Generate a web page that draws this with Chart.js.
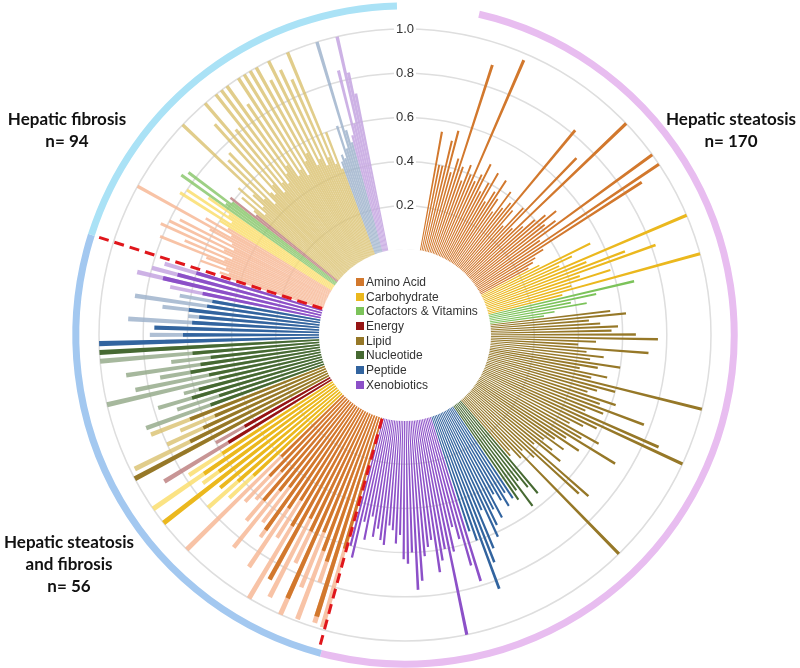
<!DOCTYPE html>
<html lang="en">
<head>
<meta charset="UTF-8">
<title>Metabolites by liver condition</title>
<style>
  body { margin: 0; background: #fff; }
  #wrap { position: relative; width: 800px; height: 668px; }
  #chart { position: absolute; left: 0; top: 0; }
  .group {
    position: absolute; width: 160px; text-align: center;
    font-family: Lato, "Liberation Sans", sans-serif; font-weight: bold;
    font-size: 17px; line-height: 22px; color: #111;
  }
  #legend {
    position: absolute; left: 356px; top: 275px;
    font-family: "Liberation Sans", Arial, sans-serif; font-size: 12px; color: #333;
  }
  #legend div { height: 14.7px; line-height: 14.7px; white-space: nowrap; }
  #legend span { display: inline-block; width: 8px; height: 8px; margin-right: 2px; }
</style>
</head>
<body>
<div id="wrap">
  <canvas id="chart" width="800" height="668"></canvas>
  <div class="group" style="left:-13px; top:108px;">Hepatic fibrosis<br>n= 94</div>
  <div class="group" style="left:651px; top:108px;">Hepatic steatosis<br>n= 170</div>
  <div class="group" style="left:-11px; top:531px;">Hepatic steatosis<br>and fibrosis<br>n= 56</div>
  <div id="legend"></div>
</div>
<script src="https://cdn.jsdelivr.net/npm/chart.js@4.4.1/dist/chart.umd.min.js"></script>
<script>
const categories = ['Amino Acid', 'Carbohydrate', 'Cofactors & Vitamins', 'Energy', 'Lipid', 'Nucleotide', 'Peptide', 'Xenobiotics'];
const darkColors = ['#d2782d', '#ebb81e', '#7cc35a', '#961414', '#967828', '#466932', '#32649f', '#8c50c8'];
const lightColors = ['rgba(247,185,150,0.85)', 'rgba(250,222,110,0.85)', 'rgba(140,200,110,0.85)', 'rgba(190,130,130,0.85)',
                     'rgba(218,192,110,0.8)', 'rgba(150,172,140,0.85)', 'rgba(160,180,205,0.85)', 'rgba(196,165,225,0.85)'];

// number of bars per category (legend order), clockwise inside each group
const steatosisCounts = [48, 13, 6, 0, 52, 6, 15, 30];
const bothCounts      = [19, 7, 0, 2, 5, 11, 8, 4];
const fibrosisCounts  = [21, 6, 4, 2, 47, 0, 8, 6];

// Hepatic steatosis, n = 170
const steatosisValues = [
  // amino acid
  0.55, 0.40, 0.40, 0.52, 0.57, 0.38, 0.45, 0.90, 0.42, 0.36,
  0.44, 0.40, 0.97, 0.38, 0.42, 0.48, 0.35, 0.40, 0.46, 0.32,
  0.38, 0.45, 0.36, 0.30, 0.42, 0.34, 0.38, 0.82, 0.36, 0.28,
  0.40, 0.73, 0.30, 1.00, 0.34, 0.40, 0.45, 0.50, 0.42, 0.47,
  1.00, 0.36, 1.00, 0.89, 0.35, 0.30, 0.28, 0.25,
  // carbohydrate
  0.30, 0.55, 0.45, 0.38, 1.00, 0.50, 0.68, 0.82, 0.45, 0.59, 0.40, 1.00, 0.35,
  // cofactors & vitamins
  0.68, 0.50, 0.38, 0.45, 0.30, 0.25,
  // lipid
  0.55, 0.62, 0.45, 0.50, 0.58, 0.55, 0.66, 0.76, 0.48, 0.40,
  0.72, 0.44, 0.52, 0.46, 0.60, 0.50, 0.42, 0.55, 0.48, 1.00,
  0.60, 0.52, 0.48, 0.62, 0.55, 0.77, 0.58, 0.50, 0.87, 1.00,
  0.58, 0.52, 0.46, 0.62, 0.54, 0.73, 0.48, 0.56, 0.44, 0.50,
  0.40, 0.46, 0.52, 0.38, 0.72, 0.68, 0.42, 0.36, 1.00, 0.38,
  0.32, 0.34,
  // nucleotide
  0.55, 0.50, 0.45, 0.58, 0.48, 0.52,
  // peptide
  0.50, 0.46, 0.52, 0.48, 0.44, 0.55, 0.50, 0.57, 0.62, 0.48, 0.66, 0.72, 0.84, 0.60, 0.55,
  // xenobiotics
  0.78, 0.70, 0.57, 0.51, 0.62, 1.00, 0.60, 0.65, 0.70, 0.55,
  0.58, 0.62, 0.73, 0.77, 0.60, 0.65, 0.63, 0.52, 0.56, 0.50,
  0.48, 0.57, 0.55, 0.50, 0.54, 0.45, 0.56, 0.48, 0.65, 0.60
];

// Hepatic steatosis and fibrosis, n = 56 (dark = steatosis, light = fibrosis)
const bothSteatosis = [
  0.62, 0.95, 0.70, 0.66, 0.58, 0.92, 0.60, 0.55, 0.88, 0.62, 0.50, 0.56, 0.70, 0.48, 0.52, 0.60, 0.45, 0.50, 0.40,
  0.55, 0.62, 0.70, 1.00, 0.66, 0.72, 0.60,
  0.55, 0.45,
  1.00, 0.70, 0.62, 0.55, 0.66,
  0.55, 0.50, 0.62, 0.58, 0.48, 0.52, 0.60, 0.55, 0.50, 0.58, 1.00,
  1.00, 0.62, 0.75, 0.58, 0.55, 0.60, 0.52, 0.50,
  0.55, 0.74, 0.68, 0.60
];
const bothFibrosis = [
  0.99, 0.98, 0.80, 0.99, 0.85, 1.00, 0.76, 0.95, 0.82, 1.00, 0.70, 0.88, 0.74, 0.68, 0.85, 0.72, 0.62, 0.66, 1.00,
  0.70, 0.80, 0.60, 0.85, 0.75, 1.00, 0.78,
  0.89, 0.60,
  0.75, 0.98, 0.80, 0.72, 0.85,
  0.86, 0.70, 0.78, 0.65, 1.00, 0.86, 0.74, 0.89, 0.68, 1.00, 0.72,
  0.70, 0.77, 0.68, 0.87, 0.60, 0.72, 0.85, 0.65,
  0.70, 0.86, 0.80, 0.75
];

// Hepatic fibrosis, n = 94
const fibrosisValues = [
  0.45, 0.50, 0.46, 0.60, 0.48, 0.58, 0.81, 0.50, 0.70, 0.47, 0.83, 0.52, 0.80, 0.48, 0.76, 0.50, 0.62, 1.00, 0.52, 0.66, 0.55,
  0.60, 0.82, 0.55, 0.80, 0.58, 0.70,
  0.86, 0.62, 0.84, 0.60,
  0.62, 0.48,
  0.50, 0.58, 0.45, 0.62, 0.48, 0.55, 1.00, 0.50, 0.74, 0.45,
  0.76, 0.50, 0.48, 0.90, 0.52, 1.00, 0.46, 0.82, 0.50, 1.00,
  0.48, 1.00, 0.52, 1.00, 0.55, 0.88, 0.48, 1.00, 0.50, 1.00,
  0.46, 1.00, 0.52, 1.00, 0.55, 0.92, 0.48, 1.00, 0.50, 0.94,
  0.46, 0.88, 0.49, 1.00, 0.45, 0.60, 0.42,
  0.45, 0.48, 0.46, 0.61, 0.50, 1.00, 0.58, 0.52,
  0.55, 0.85, 0.60, 1.00, 0.83, 0.73
];

const tickValues = [0.2, 0.4, 0.6, 0.8, 1.0];

// angular layout in degrees, clockwise from 12 o'clock
const MIN = -0.385;            // scale minimum, leaves the hole for the legend
const leadGap = 10;
const slot = { s: 1.09, b: 1.65, f: 0.65 };
const barShare = { s: 0.55, b: 0.58, f: 1 };
const ringSpans = [
  { from: 13, to: 194.8, color: '#e8bdf0' },
  { from: 194.8, to: 287.7, color: '#a3c8f0' },
  { from: 287.7, to: 358.6, color: '#aae2f6' }
];
const clear = 'rgba(0,0,0,0)';

const labels = [], angles = [], darkData = [], lightData = [], darkBg = [], lightBg = [];
function add(label, angle, d, l, dc, lc) {
  labels.push(label); angles.push(angle);
  darkData.push(d); lightData.push(l); darkBg.push(dc); lightBg.push(lc);
}
function expand(counts) {
  const out = [];
  counts.forEach((n, c) => { for (let i = 0; i < n; i++) out.push(c); });
  return out;
}

add('', leadGap, MIN, MIN, clear, clear);
expand(steatosisCounts).forEach((c, i) => {
  add(categories[c], slot.s * barShare.s, steatosisValues[i], MIN, darkColors[c], clear);
  add('', slot.s * (1 - barShare.s), MIN, MIN, clear, clear);
});
expand(bothCounts).forEach((c, i) => {
  add(categories[c], slot.b * barShare.b, bothSteatosis[i], bothFibrosis[i], darkColors[c], lightColors[c]);
  add('', slot.b * (1 - barShare.b), MIN, MIN, clear, clear);
});
expand(fibrosisCounts).forEach((c, i) => {
  add(categories[c], slot.f, MIN, fibrosisValues[i], clear, lightColors[c]);
});
const used = angles.reduce((a, b) => a + b, 0);
add('', 360 - used, MIN, MIN, clear, clear);

const sepAngles = [leadGap + 170 * slot.s, leadGap + 170 * slot.s + 56 * slot.b];

// legend in the centre
const legendBox = document.getElementById('legend');
categories.forEach((name, i) => {
  const row = document.createElement('div');
  row.innerHTML = '<span style="background:' + darkColors[i] + '"></span>' + name.replace('&', '&amp;');
  legendBox.appendChild(row);
});

const decor = {
  id: 'decor',
  afterDatasetsDraw(chart) {
    const r = chart.scales.r, ctx = chart.ctx;
    const cx = r.xCenter, cy = r.yCenter;
    const rad = d => (d - 90) * Math.PI / 180;
    ctx.save();
    // white hole for the legend
    ctx.fillStyle = '#fff';
    ctx.beginPath();
    ctx.arc(cx, cy, r.getDistanceFromCenterForValue(0) + 1, 0, Math.PI * 2);
    ctx.fill();
    // group ring
    ctx.lineWidth = 7;
    const ringR = r.getDistanceFromCenterForValue(1.105);
    ringSpans.forEach(s => {
      ctx.strokeStyle = s.color;
      ctx.beginPath();
      ctx.arc(cx, cy, ringR, rad(s.from), rad(s.to));
      ctx.stroke();
    });
    // red dashed separators
    ctx.strokeStyle = '#e0161b';
    ctx.lineWidth = 3;
    ctx.setLineDash([10, 6]);
    const r0 = r.getDistanceFromCenterForValue(0) + 2, r1 = r.getDistanceFromCenterForValue(1.08);
    sepAngles.forEach(a => {
      const t = rad(a);
      ctx.beginPath();
      ctx.moveTo(cx + r0 * Math.cos(t), cy + r0 * Math.sin(t));
      ctx.lineTo(cx + r1 * Math.cos(t), cy + r1 * Math.sin(t));
      ctx.stroke();
    });
    ctx.restore();
  }
};

new Chart(document.getElementById('chart'), {
  type: 'polarArea',
  data: {
    labels: labels,
    datasets: [
      { label: 'steatosis', data: darkData, backgroundColor: darkBg, borderWidth: 0, angle: ctx => angles[ctx.dataIndex] },
      { label: 'fibrosis', data: lightData, backgroundColor: lightBg, borderWidth: 0, angle: ctx => angles[ctx.dataIndex] }
    ]
  },
  options: {
    responsive: false,
    animation: false,
    layout: { padding: { top: 19, bottom: 17, left: 90, right: 80 } },
    plugins: { legend: { display: false }, tooltip: { enabled: false } },
    scales: {
      r: {
        min: MIN,
        max: 1.0,
        startAngle: 0,
        angleLines: { display: false },
        pointLabels: { display: false },
        grid: { color: '#dedede', lineWidth: 1.5 },
        ticks: {
          stepSize: 0.2,
          color: '#333',
          font: { family: 'Liberation Sans', size: 13 },
          backdropColor: '#fff',
          backdropPadding: 2,
          callback: v => tickValues.some(t => Math.abs(t - v) < 1e-6) ? v.toFixed(1) : ''
        }
      }
    }
  },
  plugins: [decor]
});
</script>
</body>
</html>
